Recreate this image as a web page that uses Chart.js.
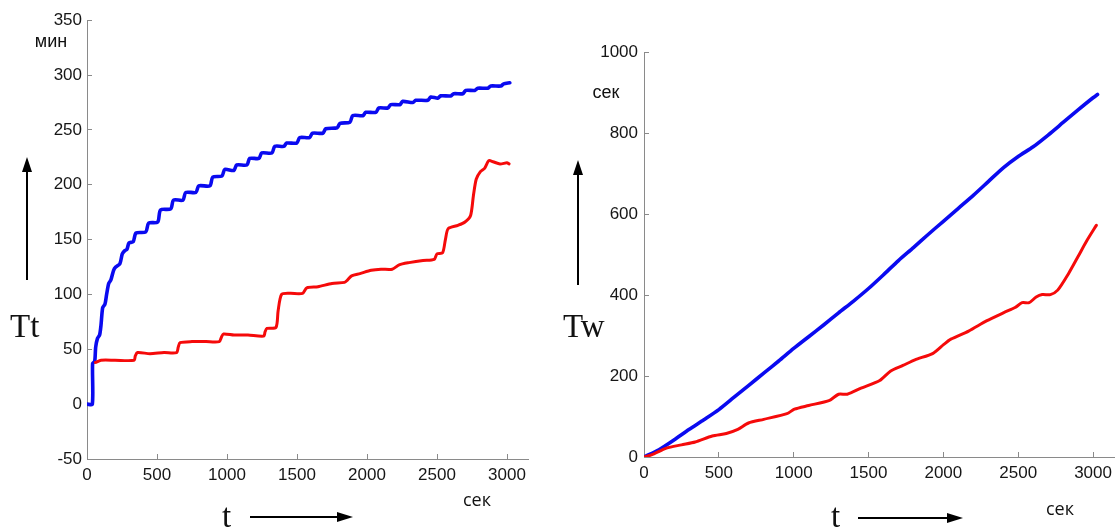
<!DOCTYPE html>
<html>
<head>
<meta charset="utf-8">
<script src="https://cdn.jsdelivr.net/npm/chart.js@4.4.1/dist/chart.umd.min.js"></script>
<style>
  body { margin: 0; width: 1116px; height: 530px; background: #fff; position: relative; overflow: hidden; font-family: "Liberation Sans", Arial, sans-serif; }
  .box { position: absolute; top: 0; height: 530px; }
  .lbl { position: absolute; color: #111; white-space: nowrap; line-height: 1; }
  .unit { font-size: 18px; transform: translate(-50%, -50%); }
  .serif { font-family: "Liberation Serif", "Times New Roman", serif; font-size: 33px; }
  svg { position: absolute; left: 0; top: 0; pointer-events: none; }
</style>
</head>
<body>
<div class="box" style="left:0;width:560px"><canvas id="ttChart"></canvas></div>
<div class="box" style="left:560px;width:590px"><canvas id="twChart"></canvas></div>

<div class="lbl unit" style="left:51px;top:41px">мин</div>
<div class="lbl unit" style="left:477px;top:499px;font-family:'Open Sans'">сек</div>
<div class="lbl unit" style="left:606px;top:92px">сек</div>
<div class="lbl unit" style="left:1060px;top:508px;font-family:'Open Sans'">сек</div>
<div class="lbl serif" style="left:10px;top:310px">Tt</div>
<div class="lbl serif" style="left:563px;top:310px">Tw</div>
<div class="lbl serif" style="left:222px;top:500px">t</div>
<div class="lbl serif" style="left:831px;top:500px">t</div>

<svg width="1116" height="530">
  <g stroke="#000" stroke-width="2" fill="#000">
    <line x1="27" y1="280" x2="27" y2="170"/><polygon points="27,157 22,172 32,172" stroke="none"/>
    <line x1="250" y1="517" x2="340" y2="517"/><polygon points="353,517 337,512 337,522" stroke="none"/>
    <line x1="578" y1="285" x2="578" y2="173"/><polygon points="578,160 573,175 583,175" stroke="none"/>
    <line x1="858" y1="518" x2="950" y2="518"/><polygon points="963,518 947,513 947,523" stroke="none"/>
  </g>
</svg>

<script>
// left panel: Tt, минуты vs t, сек
const ttTicksX = [0, 500, 1000, 1500, 2000, 2500, 3000];
const ttTicksY = [-50, 0, 50, 100, 150, 200, 250, 300, 350];

const ttBlueT = [0, 38, 40, 55, 62, 75, 90, 100, 112, 128, 140, 155, 170, 190, 205, 235, 252, 270, 285, 300, 330, 350,
  420, 440, 505, 525, 598, 618, 685, 705, 778, 798, 878, 898, 964, 984, 1049, 1069, 1142, 1162, 1228, 1248,
  1321, 1341, 1406, 1426, 1499, 1519, 1590, 1610, 1685, 1705, 1787, 1807, 1878, 1898, 1971, 1991, 2064, 2084,
  2149, 2169, 2235, 2255, 2328, 2348, 2435, 2455, 2506, 2526, 2599, 2619, 2685, 2705, 2771, 2791, 2864, 2884,
  2956, 2976, 3020];
const ttBlueV = [0, 0, 37, 39, 52, 60, 63, 72, 88, 91, 100, 110, 113, 122, 125, 128, 137, 140, 141, 147, 148, 156,
  157, 165, 166, 177, 178, 186, 186, 193, 193, 199, 199, 207, 208, 214, 213, 218, 218, 224, 224, 229,
  229, 235, 235, 238, 238, 243, 243, 247, 247, 251, 252, 256, 257, 263, 263, 266, 266, 270,
  270, 273, 273, 276, 275, 277, 277, 280, 279, 281, 281, 283, 283, 286, 286, 288, 288, 290,
  290, 292, 293];

const ttRedT = [60, 100, 200, 336, 345, 360, 450, 550, 640, 652, 665, 750, 850, 945, 960, 975, 1050, 1150, 1262, 1272,
  1285, 1350, 1365, 1390, 1450, 1540, 1570, 1650, 1750, 1840, 1860, 1890, 1950, 2030, 2100, 2180, 2230, 2300,
  2400, 2480, 2500, 2540, 2560, 2580, 2650, 2700, 2740, 2760, 2780, 2810, 2840, 2870, 2900, 2950, 3000, 3015];
const ttRedV = [38, 40, 40, 40, 44, 47, 46, 47, 47, 52, 56, 57, 57, 57, 61, 64, 63, 63, 62, 66,
  69, 70, 85, 100, 101, 101, 106, 107, 110, 111, 113, 117, 119, 122, 123, 123, 127, 129,
  131, 132, 137, 138, 150, 160, 163, 166, 172, 190, 205, 212, 215, 222, 221, 219, 220, 219];

// right panel: Tw, сек vs t, сек
const twTicksX = [0, 500, 1000, 1500, 2000, 2500, 3000];
const twTicksY = [0, 200, 400, 600, 800, 1000];

const twBlueT = [0, 100, 200, 300, 400, 500, 600, 700, 800, 900, 1000, 1100, 1200, 1300, 1400, 1500, 1600, 1700,
  1800, 1900, 2000, 2100, 2200, 2300, 2400, 2500, 2600, 2700, 2800, 2900, 3000, 3030];
const twBlueV = [0, 18, 42, 68, 92, 117, 147, 177, 207, 237, 268, 297, 326, 356, 385, 416, 450, 485,
  517, 550, 582, 614, 646, 680, 714, 742, 766, 795, 826, 857, 887, 895];

const twRedT = [0, 50, 150, 250, 342, 456, 550, 627, 698, 800, 955, 1005, 1100, 1240, 1300, 1358, 1450, 1575, 1646,
  1730, 1810, 1931, 2003, 2050, 2169, 2288, 2407, 2479, 2526, 2573, 2620, 2660, 2715, 2764, 2835, 2900, 2960, 3022];
const twRedV = [0, 5, 22, 30, 37, 52, 58, 68, 84, 93, 107, 118, 127, 140, 155, 155, 170, 189, 212,
  226, 240, 256, 278, 291, 311, 336, 357, 369, 381, 381, 395, 401, 401, 412, 452, 495, 535, 572];

const BLUE = '#0a0af0';
const RED = '#f50a0a';
const AXIS = '#8a8a8a';

const pts = (ts, vs) => ts.map((t, i) => ({ x: t, y: vs[i] }));

function series(ts, vs, color, width) {
  return { data: pts(ts, vs), borderColor: color, borderWidth: width, pointRadius: 0, tension: 0.25, borderJoinStyle: 'round', borderCapStyle: 'round' };
}

function axis(min, max, ticks, size, pad) {
  return {
    type: 'linear', min, max,
    afterBuildTicks: s => { s.ticks = ticks.map(v => ({ value: v })); },
    afterFit: s => { if (s.isHorizontal()) s.height = size; else s.width = size; },
    grid: { drawOnChartArea: false, drawTicks: true, tickLength: -5, color: AXIS, lineWidth: 1 },
    border: { display: true, color: AXIS, width: 1 },
    ticks: { color: '#161616', padding: pad, maxRotation: 0, autoSkip: false, callback: v => String(v), font: { family: 'Liberation Sans', size: 17 } }
  };
}

function makeChart(id, datasets, x, y, padding) {
  return new Chart(document.getElementById(id), {
    type: 'line',
    data: { datasets },
    options: {
      animation: false, responsive: true, maintainAspectRatio: false,
      layout: { padding },
      plugins: { legend: { display: false }, tooltip: { enabled: false } },
      scales: { x, y }
    }
  });
}

makeChart('ttChart',
  [series(ttRedT, ttRedV, RED, 3), series(ttBlueT, ttBlueV, BLUE, 3.6)],
  axis(0, 3150, ttTicksX, 71, 11),
  axis(-50, 350, ttTicksY, 87, 10),
  { top: 18, right: 32, bottom: 0, left: 0 });

makeChart('twChart',
  [series(twRedT, twRedV, RED, 3), series(twBlueT, twBlueV, BLUE, 3.6)],
  axis(0, 3140, twTicksX, 73, 11),
  axis(0, 1000, twTicksY, 84, 11),
  { top: 52, right: 36, bottom: 0, left: 0 });
</script>
</body>
</html>
